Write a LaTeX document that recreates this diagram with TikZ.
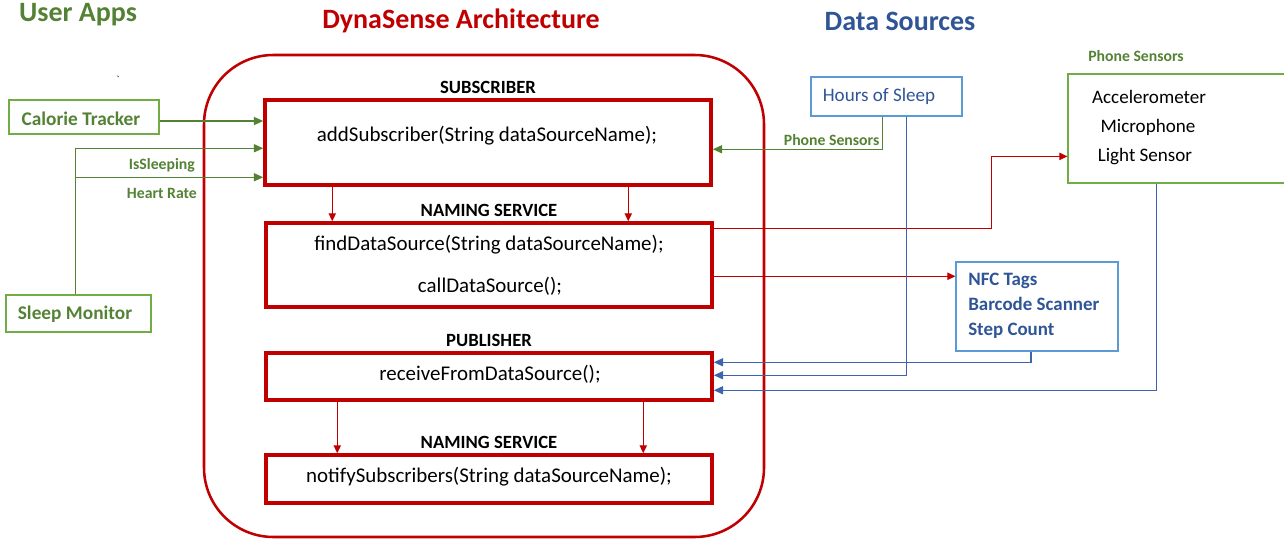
\documentclass[tikz,border=0pt]{standalone}
\usepackage{fontspec}
\setmainfont{Carlito}
\usetikzlibrary{arrows.meta,fit,calc}

\definecolor{dsred}{HTML}{C00000}
\definecolor{appgreen}{HTML}{548235}
\definecolor{boxgreen}{HTML}{70AD47}
\definecolor{srcblue}{HTML}{2F5597}
\definecolor{lineblue}{HTML}{3F64AE}
\definecolor{boxblue}{HTML}{5B9BD5}

\tikzset{
  title/.style={font=\fontsize{21}{25}\selectfont\bfseries},
  archframe/.style={draw=dsred, line width=1.9pt, rounded corners=52pt, inner sep=0pt},
  redbox/.style={draw=dsred, line width=2.6pt, inner sep=0pt},
  code/.style={font=\fontsize{15.7}{19}\selectfont, inner sep=0pt},
  boxlabel/.style={font=\fontsize{14}{17}\selectfont\bfseries},
  appbox/.style={draw=boxgreen, line width=0.9pt, inner sep=0pt},
  apptext/.style={text=appgreen, font=\fontsize{14.5}{17}\selectfont\bfseries, inner sep=0pt},
  srcbox/.style={draw=boxblue, line width=0.9pt, inner sep=0pt},
  sensor/.style={font=\fontsize{14.3}{17}\selectfont, inner sep=0pt},
  wire/.style={font=\fontsize{11.8}{14}\selectfont\bfseries, text=appgreen, inner sep=2pt},
  greenarr/.style={draw=appgreen, line width=1.1pt, -{Triangle[length=7pt,width=6pt]}},
  bluearr/.style={draw=lineblue, line width=1.1pt, -{Triangle[length=7pt,width=6pt]}},
  redarr/.style={draw=dsred, line width=0.8pt, -{Triangle[length=6pt,width=5.5pt]}}
}

\begin{document}
\begin{tikzpicture}[x=0.75pt, y=-0.75pt]
\useasboundingbox (0,0) rectangle (1284,539);

% headings
\node[title, text=appgreen] (appstitle) at (78,15) {User Apps};
\node[title, text=dsred] (dstitle) at (461,21) {DynaSense Architecture};
\node[title, text=srcblue] (srctitle) at (900,21) {Data Sources};
\node[font=\fontsize{8}{8}\selectfont] (tick) at (118,80) {\textasciigrave};

% the architecture frame and its four parts
\node[archframe, fit={(204,55) (764,537)}] (arch) {};
\node[redbox, fit={(265,100) (711,185)}, label={[boxlabel]above:SUBSCRIBER}] (sub) {};
\node[redbox, fit={(266,223) (712,307)}, label={[boxlabel]above:NAMING SERVICE}] (nam) {};
\node[redbox, fit={(266,353) (712,400)}, label={[boxlabel]above:PUBLISHER}] (pub) {};
\node[redbox, fit={(266,455) (712,503)}, label={[boxlabel]above:NAMING SERVICE}] (notif) {};

\node[code] (subtxt) at (487,136) {addSubscriber(String dataSourceName);};
\node[code] (findtxt) at (489,245) {findDataSource(String dataSourceName);};
\node[code] (calltxt) at (490,286) {callDataSource();};
\node[code] (pubtxt) at (490,374) {receiveFromDataSource();};
\node[code] (notiftxt) at (489,477) {notifySubscribers(String dataSourceName);};

\draw[redarr] ($(sub.south west)+(69,0)$) -- ($(nam.north west)+(68,0)$);
\draw[redarr] ($(sub.south west)+(365,0)$) -- ($(nam.north west)+(364,0)$);
\draw[redarr] ($(pub.south west)+(73,0)$) -- ($(notif.north west)+(73,0)$);
\draw[redarr] ($(pub.south west)+(379,0)$) -- ($(notif.north west)+(379,0)$);

% user apps
\node[appbox, fit={(9,100) (159,134)}] (cal) {};
\node[apptext] (caltxt) at (81,119) {Calorie Tracker};
\node[appbox, fit={(6,295) (151,332)}] (sleepmon) {};
\node[apptext] (sleeptxt) at (75,314) {Sleep Monitor};

\draw[greenarr] ($(cal.east)+(0,4)$) coordinate (calout) -- (sub.west |- calout);
\draw[greenarr] ($(sleepmon.north)+(-3,0)$) |- ($(sub.north west)+(0,50)$)
  node[wire, pos=0.73, below=5pt] {IsSleeping};
\draw[greenarr] ($(sleepmon.north)+(-3,0)$) |- ($(sub.north west)+(0,79)$)
  node[wire, pos=0.73, below=6pt] {Heart Rate};

% data sources
\node[srcbox, fit={(811,77) (962,116)}] (hours) {};
\node[sensor, text=srcblue] (hourstxt) at (879,96) {Hours of Sleep};
\node[draw=boxgreen, line width=0.9pt, inner sep=0pt, fit={(1068,74) (1300,183)}] (phone) {};
\node[wire] (phonelbl) at (1136,56) {Phone Sensors};
\node[sensor] (acc) at (1149,97) {Accelerometer};
\node[sensor] (mic) at (1148,127) {Microphone};
\node[sensor] (light) at (1145,157) {Light Sensor};
\node[srcbox, fit={(956,262) (1118,351)}] (nfc) {};
\node[sensor, text=srcblue, align=left, anchor=west,
  font=\fontsize{14.2}{18.75}\selectfont\bfseries] (nfctxt) at (968,306)
  {NFC Tags\\Barcode Scanner\\Step Count};

\draw[greenarr] ($(hours.south)+(-4,0)$) |- ($(sub.north east)+(0,51)$)
  node[wire, pos=0.65, above] {Phone Sensors};
\draw[redarr] ($(nam.north east)+(0,7)$) -- ++(278,0) |- ($(phone.north west)+(0,83)$);
\draw[redarr] ($(nam.north east)+(0,55)$) coordinate (namout) -- (nfc.west |- namout);

\draw[bluearr] ($(nfc.south)+(-6,0)$) |- ($(pub.north east)+(0,11)$);
\draw[bluearr] ($(hours.south)+(20,0)$) |- ($(pub.north east)+(0,24)$);
\draw[bluearr] ($(phone.south west)+(89,0)$) |- ($(pub.north east)+(0,39)$);
\end{tikzpicture}
\end{document}
